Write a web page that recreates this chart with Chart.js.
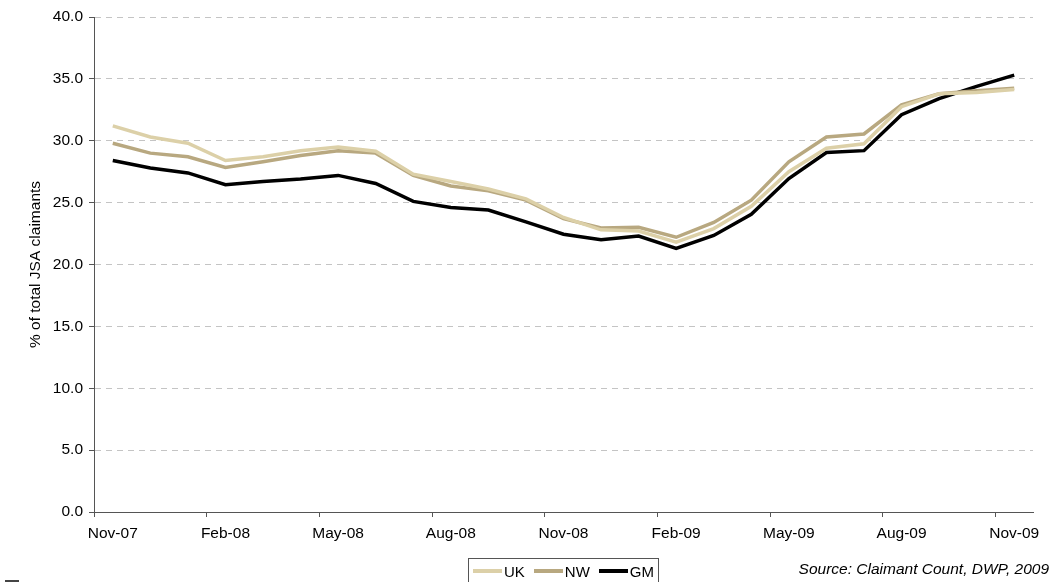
<!DOCTYPE html>
<html>
<head>
<meta charset="utf-8">
<script src="https://cdn.jsdelivr.net/npm/chart.js@4/dist/chart.umd.min.js"></script>
<style>
  html, body { margin: 0; padding: 0; background: #fff; }
  #wrap { position: relative; width: 1062px; height: 582px; overflow: hidden; font-family: "Liberation Sans", Arial, sans-serif; }
  #chart { position: absolute; left: 0; top: 0; }
  #legend { position: absolute; left: 468px; top: 558px; width: 191px; height: 26px; border: 1px solid #555; box-sizing: border-box; display: flex; align-items: center; padding-left: 4px; font-size: 15px; color: #000; }
  #legend .item { display: flex; align-items: center; margin-right: 9px; }
  #legend .swatch { width: 29px; height: 4px; margin-right: 2px; }
  #source { position: absolute; right: 13px; top: 560px; font-size: 15.5px; font-style: italic; color: #000; }
  #mark { position: absolute; left: 5px; top: 580px; width: 14px; height: 2px; background: #444; }
</style>
</head>
<body>
<div id="wrap">
  <canvas id="chart" width="1062" height="582"></canvas>
  <div id="legend"></div>
  <div id="source">Source: Claimant Count, DWP, 2009</div>
  <div id="mark"></div>
</div>
<script>
// monthly categories, Nov-07 .. Nov-09
const months = ["Nov-07", "Dec-07", "Jan-08", "Feb-08", "Mar-08", "Apr-08", "May-08", "Jun-08", "Jul-08",
  "Aug-08", "Sep-08", "Oct-08", "Nov-08", "Dec-08", "Jan-09", "Feb-09", "Mar-09", "Apr-09",
  "May-09", "Jun-09", "Jul-09", "Aug-09", "Sep-09", "Oct-09", "Nov-09"];

// % of total JSA claimants
const ukValues = [31.2, 30.3, 29.8, 28.4, 28.7, 29.2, 29.5, 29.15, 27.3, 26.7, 26.1, 25.3, 23.8,
  22.8, 22.7, 21.8, 22.9, 24.7, 27.5, 29.4, 29.75, 32.75, 33.8, 33.9, 34.15];
const nwValues = [29.8, 29.0, 28.7, 27.85, 28.3, 28.8, 29.2, 29.0, 27.2, 26.35, 25.95, 25.2, 23.7,
  22.95, 23.0, 22.2, 23.4, 25.2, 28.3, 30.3, 30.55, 32.9, 33.8, 34.05, 34.25];
const gmValues = [28.4, 27.8, 27.4, 26.45, 26.7, 26.9, 27.2, 26.55, 25.1, 24.6, 24.4, 23.45, 22.45,
  22.0, 22.3, 21.3, 22.35, 24.05, 26.95, 29.05, 29.2, 32.1, 33.4, 34.4, 35.3];

const seriesNames = ["UK", "NW", "GM"];
const seriesColors = ["#dcd0a8", "#b8a880", "#000000"];

const yTicks = { min: 0, max: 40, step: 5 };

const tickFont = { family: "'Liberation Sans', Arial", size: 15.5 };

const datasets = [ukValues, nwValues, gmValues].map((vals, i) => ({
    label: seriesNames[i],
    data: vals,
    borderColor: seriesColors[i],
    backgroundColor: seriesColors[i],
    borderWidth: 3.5,
    pointRadius: 0,
    tension: 0,
    fill: false
}));

new Chart(document.getElementById("chart"), {
    type: "line",
    data: { labels: months, datasets: datasets },
    options: {
        responsive: false,
        animation: false,
        layout: { padding: { left: 0, right: 29, top: 17, bottom: 0 } },
        plugins: {
            legend: { display: false },
            tooltip: { enabled: false }
        },
        scales: {
            x: {
                offset: true,
                border: { color: "#555", width: 1 },
                grid: {
                    offset: true,
                    drawOnChartArea: false,
                    tickLength: 5,
                    color: ctx => (ctx.index % 3 === 0 ? "#555" : "rgba(0,0,0,0)")
                },
                ticks: {
                    autoSkip: false,
                    maxRotation: 0,
                    padding: 7,
                    color: "#000",
                    font: tickFont,
                    callback: function (val, idx) { return idx % 3 === 0 ? this.getLabelForValue(val) : ""; }
                },
                afterFit: s => { s.height = 70; }
            },
            y: {
                min: yTicks.min,
                max: yTicks.max,
                border: { color: "#555", width: 1, dash: [6, 5] },
                grid: {
                    color: "#c4c4c4",
                    tickColor: "#555",
                    tickLength: 5,
                    tickBorderDash: [1, 0]
                },
                ticks: {
                    stepSize: yTicks.step,
                    padding: 6,
                    color: "#000",
                    font: tickFont,
                    callback: v => v.toFixed(1)
                },
                title: {
                    display: true,
                    text: "% of total JSA claimants",
                    color: "#000",
                    font: tickFont,
                    padding: { top: 26, bottom: 0 }
                },
                afterFit: s => { s.width = 94; }
            }
        }
    }
});

// legend
const legend = document.getElementById("legend");
legend.innerHTML = seriesNames.map((name, i) =>
    `<span class="item"><span class="swatch" style="background:${seriesColors[i]}"></span>${name}</span>`
).join("");
</script>
</body>
</html>
